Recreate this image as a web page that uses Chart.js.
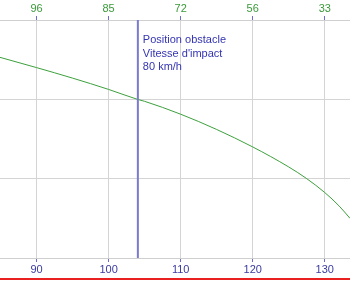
<!DOCTYPE html>
<html>
<head>
<meta charset="utf-8">
<script src="https://cdn.jsdelivr.net/npm/chart.js@4"></script>
<style>
  body { margin: 0; background: #fff; overflow: hidden; }
  #wrap { position: relative; width: 350px; height: 288px; }
  #redLine { position: absolute; left: 0; top: 278px; width: 350px; height: 2px; background: #e82020; }
</style>
</head>
<body>
<div id="wrap">
  <canvas id="speedChart" width="350" height="288"></canvas>
  <div id="redLine"></div>
</div>
<script>
// position (m) -> vitesse (km/h)
var positions = [84.9, 90, 95, 100, 104, 105, 110, 115, 120, 125, 127.5, 130, 132, 133.5];
var speeds    = [101.2, 96, 90.7, 85, 80, 79, 72.5, 64.8, 56, 45.9, 40, 33, 26.2, 20];
// top axis labels (speed at each bottom tick)
var bottomTicks = [90, 100, 110, 120, 130];
var topLabels   = [96, 85, 72, 56, 33];
var obstaclePos = 104.06;
var obstacleText = ['Position obstacle', "Vitesse d'impact", '80 km/h'];

var points = positions.map(function(p, i) { return { x: p, y: speeds[i] }; });

var obstaclePlugin = {
    id: 'obstacle',
    afterDatasetsDraw: function(chart) {
        var ctx = chart.ctx;
        var area = chart.chartArea;
        var x = chart.scales.x.getPixelForValue(obstaclePos);
        ctx.save();
        ctx.strokeStyle = '#7a7ad0';
        ctx.lineWidth = 2;
        ctx.beginPath();
        ctx.moveTo(x, area.top);
        ctx.lineTo(x, area.bottom);
        ctx.stroke();
        ctx.fillStyle = '#3434b4';
        ctx.font = '11px Arial, "Liberation Sans", sans-serif';
        ctx.textBaseline = 'middle';
        for (var i = 0; i < obstacleText.length; i++) {
            ctx.fillText(obstacleText[i], x + 5, 40 + i * 13.5);
        }
        ctx.restore();
    }
};

var ctx = document.getElementById('speedChart').getContext('2d');
var speedChart = new Chart(ctx, {
    type: 'line',
    data: {
        datasets: [{
            data: points,
            borderColor: '#3ca03c',
            borderWidth: 1,
            pointRadius: 0,
            fill: false,
            cubicInterpolationMode: 'monotone'
        }]
    },
    options: {
        responsive: false,
        animation: false,
        layout: { padding: 0 },
        plugins: { legend: { display: false }, tooltip: { enabled: false } },
        scales: {
            x: {
                type: 'linear',
                position: 'bottom',
                min: 84.93,
                max: 133.5,
                afterFit: function(s) { s.height = 30; },
                afterBuildTicks: function(s) {
                    s.ticks = bottomTicks.map(function(v) { return { value: v }; });
                },
                ticks: {
                    color: '#3a3aa0',
                    font: { family: 'Arial, "Liberation Sans", sans-serif', size: 11 },
                    padding: 1,
                    maxRotation: 0
                },
                grid: { color: '#d4d4d4', tickColor: '#6a6ad0', tickLength: 4 },
                border: { color: '#cfcfcf' }
            },
            x2: {
                type: 'linear',
                position: 'top',
                min: 84.93,
                max: 133.5,
                afterFit: function(s) { s.height = 20; },
                afterBuildTicks: function(s) {
                    s.ticks = bottomTicks.map(function(v) { return { value: v }; });
                },
                ticks: {
                    color: '#3a9a3a',
                    font: { family: 'Arial, "Liberation Sans", sans-serif', size: 11 },
                    padding: 0,
                    maxRotation: 0,
                    callback: function(v) {
                        var i = bottomTicks.indexOf(v);
                        return i >= 0 ? String(topLabels[i]) : '';
                    }
                },
                grid: { drawOnChartArea: false, tickColor: '#6a6ad0', tickLength: 4 },
                border: { color: '#cfcfcf' }
            },
            y: {
                min: 0,
                max: 120,
                afterFit: function(s) { s.width = 0; },
                ticks: { display: false, stepSize: 40 },
                grid: { color: '#d4d4d4', drawTicks: false },
                border: { display: false }
            }
        }
    },
    plugins: [obstaclePlugin]
});
</script>
</body>
</html>
